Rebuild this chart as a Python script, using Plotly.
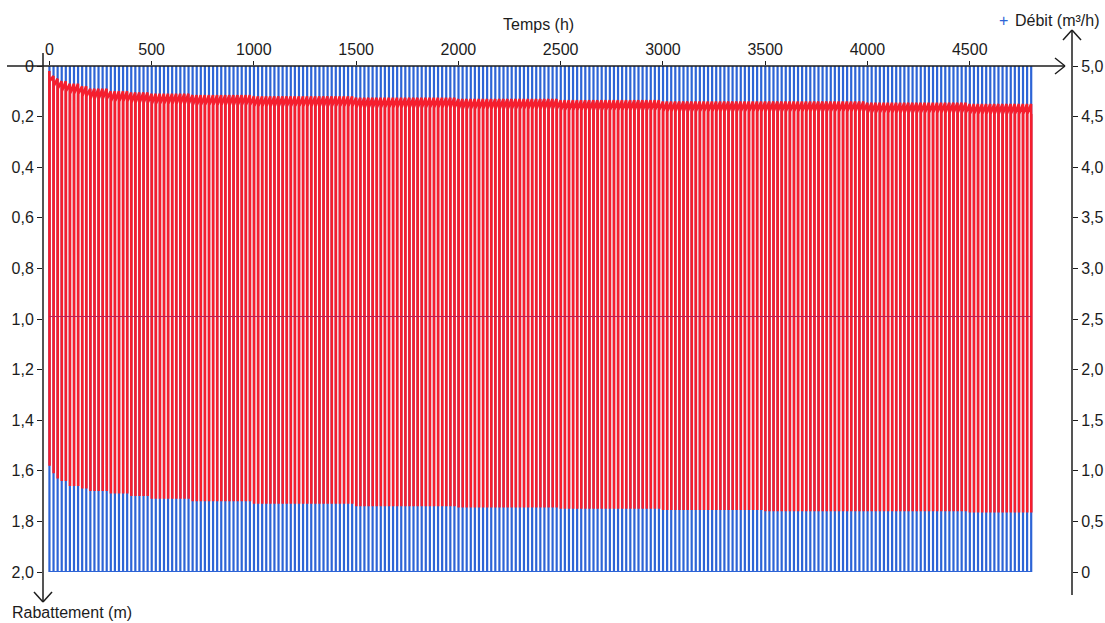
import plotly.graph_objects as go

# Pumping schedule (cyclic pumping test)
cycle_hours = 20          # h, one pumping cycle
pump_hours = 1            # h, pump running in each cycle
n_cycles = 241
debit_on = 5.0            # m3/h
debit_off = 0.0           # m3/h

# Drawdown readings (m): recovered level at cycle start, level at pump stop
reading_times = [0, 20, 40, 60, 100, 150, 200, 300, 400, 500, 700, 1000,
                 1500, 2000, 2500, 3000, 3500, 4000, 4500]
recovered_level = [0.02, 0.04, 0.05, 0.06, 0.07, 0.08, 0.09, 0.10, 0.105, 0.11,
                   0.115, 0.12, 0.125, 0.13, 0.135, 0.14, 0.14, 0.145, 0.15]
pumping_level = [1.58, 1.61, 1.63, 1.64, 1.66, 1.67, 1.68, 1.69, 1.70, 1.71,
                 1.72, 1.73, 1.74, 1.745, 1.75, 1.755, 1.76, 1.76, 1.765]
residual_after_stop = 0.04   # m, drawdown just after the pump stops, above recovered level

# Mean drawdown line
mean_times = [0, 4800]
mean_level = [0.99, 0.99]

# Axis ticks
time_ticks = [0, 500, 1000, 1500, 2000, 2500, 3000, 3500, 4000, 4500]
drawdown_ticks = [0, 0.2, 0.4, 0.6, 0.8, 1.0, 1.2, 1.4, 1.6, 1.8, 2.0]
drawdown_labels = ["0", "0,2", "0,4", "0,6", "0,8", "1,0", "1,2", "1,4", "1,6", "1,8", "2,0"]
debit_ticks = [0, 0.5, 1.0, 1.5, 2.0, 2.5, 3.0, 3.5, 4.0, 4.5, 5.0]
debit_labels = ["0", "0,5", "1,0", "1,5", "2,0", "2,5", "3,0", "3,5", "4,0", "4,5", "5,0"]


def reading_at(t, values):
    """Latest reading taken at or before time t."""
    idx = 0
    for i, rt in enumerate(reading_times):
        if rt <= t:
            idx = i
    return values[idx]


# Build the step series for flow rate and the drawdown response
q_t, q_v, s_t, s_v = [], [], [], []
for k in range(n_cycles):
    t0 = k * cycle_hours
    t1 = t0 + pump_hours
    top = reading_at(t0, recovered_level)
    bottom = reading_at(t0, pumping_level)
    q_t += [t0, t0, t1, t1]
    q_v += [debit_off, debit_on, debit_on, debit_off]
    s_t += [t0, t1, t1 + 0.3]
    s_v += [top, bottom, top + residual_after_stop]

FONT = "Liberation Sans, Arial, sans-serif"
INK = "#1c1c1c"
BLUE = "#2d64d6"
RED = "#f51e2e"

W, H = 1105, 623
ML, MR, MT, MB = 43, 33, 66, 51
PW, PH = W - ML - MR, H - MT - MB


def px(x):
    return (x - ML) / PW


def py(y):
    return 1 - (y - MT) / PH


fig = go.Figure()
# flow rate on the base axis (right side), drawdown on the overlaying axis so it draws above
fig.add_trace(go.Scatter(x=q_t, y=q_v, yaxis="y", mode="lines",
                         line=dict(color=BLUE, width=2.0, simplify=False),
                         hoverinfo="skip", showlegend=False))
fig.add_trace(go.Scatter(x=s_t, y=s_v, yaxis="y2", mode="lines",
                         line=dict(color=RED, width=2.6, simplify=False),
                         hoverinfo="skip", showlegend=False))
fig.add_trace(go.Scatter(x=mean_times, y=mean_level, yaxis="y2", mode="lines",
                         line=dict(color="#b52058", width=1), hoverinfo="skip",
                         showlegend=False))


def seg(x0, y0, x1, y1, w=1.5):
    return dict(type="line", xref="paper", yref="paper",
                x0=px(x0), y0=py(y0), x1=px(x1), y1=py(y1),
                line=dict(color=INK, width=w))


shapes = [
    seg(43, 53, 43, 602),            # left axis
    seg(34, 592, 43, 602), seg(43, 602, 52, 592),
    seg(7, 66, 1065, 66),            # time axis
    seg(1055, 58, 1065, 66), seg(1065, 66, 1055, 74),
    seg(1072, 30, 1072, 595),        # right axis
    seg(1063, 40, 1072, 30), seg(1072, 30, 1081, 40),
]


def label(text, x, y, anchor="center", color=INK):
    return dict(text=text, x=px(x), y=py(y), xref="paper", yref="paper",
                xanchor=anchor, yanchor="middle", showarrow=False,
                font=dict(family=FONT, size=16, color=color))


annotations = [
    label("Temps (h)", 538, 24),
    label("Rabattement (m)", 10, 612, "left"),
    label("Débit (m³/h)", 1013, 20, "left"),
    label("+", 1003, 20, color=BLUE),
]

fig.update_layout(
    width=W, height=H,
    margin=dict(l=ML, r=MR, t=MT, b=MB, autoexpand=False),
    paper_bgcolor="white", plot_bgcolor="white",
    font=dict(family=FONT, size=16, color=INK),
    xaxis=dict(range=[-31, 5000], side="top", tickmode="array",
               tickvals=time_ticks, ticktext=[str(v) for v in time_ticks],
               ticks="outside", ticklen=4, tickwidth=1.2, tickcolor=INK,
               showgrid=False, zeroline=False, showline=False,
               automargin=False, tickfont=dict(size=16)),
    yaxis=dict(range=[0, 5.0], side="right", tickmode="array",
               tickvals=debit_ticks, ticktext=debit_labels, ticks="outside",
               ticklen=5, tickwidth=1.2, tickcolor=INK, showgrid=False,
               zeroline=False, showline=False, automargin=False,
               tickfont=dict(size=16)),
    yaxis2=dict(range=[2.0, 0], overlaying="y", side="left", tickmode="array",
                tickvals=drawdown_ticks, ticktext=drawdown_labels,
                ticks="outside", ticklen=5, tickwidth=1.2, tickcolor=INK,
                showgrid=False, zeroline=False, showline=False,
                automargin=False, tickfont=dict(size=16)),
    shapes=shapes,
    annotations=annotations,
)

fig.write_html("out.html")
